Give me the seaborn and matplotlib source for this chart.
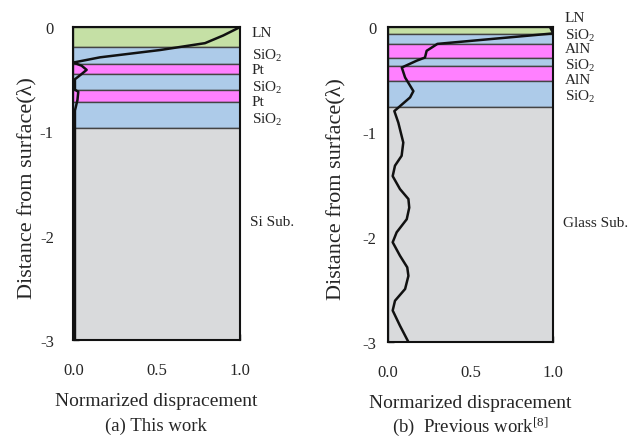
import numpy as np
import pandas as pd
import seaborn as sns
import matplotlib.pyplot as plt

# layer stacks (depth in wavelengths, top -> bottom)
a_layers = ["LN", "SiO$_2$", "Pt", "SiO$_2$", "Pt", "SiO$_2$"]
a_bounds = [0.0, 0.195, 0.35, 0.452, 0.606, 0.715, 0.97]
a_sub = "Si Sub."
a_label_depth = [0.05, 0.265, 0.41, 0.57, 0.715, 0.88]

b_layers = ["LN", "SiO$_2$", "AlN", "SiO$_2$", "AlN", "SiO$_2$"]
b_bounds = [0.0, 0.065, 0.16, 0.29, 0.375, 0.51, 0.765]
b_sub = "Glass Sub."
b_label_depth = [-0.09, 0.075, 0.205, 0.36, 0.50, 0.655]

layer_colors = {"LN": "#c5e0a5", "SiO$_2$": "#adcbe9", "Pt": "#ff80ff", "AlN": "#ff80ff"}
sub_color = "#d9dadc"

# displacement profiles
a_depth = [0.0, 0.08, 0.154, 0.22, 0.29, 0.34, 0.37, 0.41, 0.45, 0.50, 0.60, 0.62, 0.70, 0.80, 1.0, 1.5, 2.0, 2.5, 3.0]
a_disp = [1.0, 0.90, 0.79, 0.52, 0.16, 0.0, 0.05, 0.08, 0.05, 0.01, 0.01, 0.03, 0.025, 0.01, 0.01, 0.01, 0.01, 0.01, 0.01]

b_depth = [0.0, 0.06, 0.16, 0.226, 0.29, 0.32, 0.385, 0.48, 0.61, 0.67, 0.80, 0.91, 1.10, 1.226, 1.32, 1.42,
           1.543, 1.638, 1.72, 1.83, 1.955, 2.05, 2.178, 2.289, 2.37, 2.495, 2.607, 2.70, 2.845, 3.0]
b_disp = [0.98, 1.0, 0.30, 0.235, 0.225, 0.175, 0.085, 0.105, 0.155, 0.135, 0.04, 0.064, 0.094, 0.084, 0.044, 0.03,
          0.074, 0.125, 0.13, 0.115, 0.054, 0.03, 0.074, 0.118, 0.125, 0.105, 0.044, 0.03, 0.074, 0.125]

sns.set_style("ticks")
plt.rcParams["font.family"] = ["Liberation Serif", "DejaVu Serif"]
plt.rcParams["mathtext.fontset"] = "custom"
plt.rcParams["mathtext.rm"] = "Liberation Serif"
plt.rcParams["mathtext.it"] = "Liberation Serif:italic"

fig = plt.figure(figsize=(6.4, 4.39), dpi=100)
ax_a = fig.add_axes([0.1145, 0.2233, 0.2605, 0.7127])
ax_b = fig.add_axes([0.6058, 0.2187, 0.2588, 0.7173])


def draw_panel(ax, layers, bounds, sub, label_depth, depth, disp, ypad):
    for i, name in enumerate(layers):
        ax.axhspan(-bounds[i + 1], -bounds[i], color=layer_colors[name], ec="#444444", lw=1.0, zorder=1)
        ax.text(1.07, -label_depth[i], name, transform=ax.get_yaxis_transform(),
                fontsize=11, va="center", ha="left")
    ax.axhspan(-3, -bounds[-1], color=sub_color, ec="#444444", lw=1.0, zorder=1)
    ax.text(1.06, -1.86, sub, transform=ax.get_yaxis_transform(), fontsize=11, va="center", ha="left")

    df = pd.DataFrame({"disp": disp, "depth": [-d for d in depth]})
    sns.lineplot(data=df, x="disp", y="depth", sort=False, estimator=None, color="#111111",
                 lw=1.8, ax=ax, zorder=3)

    ax.set_xlim(0, 1)
    ax.set_ylim(-3, 0)
    ax.set_xticks([0, 0.5, 1.0])
    ax.set_xticklabels(["0.0", "0.5", "1.0"])
    ax.set_yticks([0, -1, -2, -3])
    ax.set_yticklabels(["0", "-1", "-2", "-3"])
    ax.tick_params(direction="in", length=4, width=1, labelsize=12, color="#222222")
    ax.tick_params(axis="x", pad=16)
    ax.tick_params(axis="y", pad=ypad)
    for s in ax.spines.values():
        s.set_linewidth(1.5)
        s.set_color("#111111")
        s.set_zorder(4)
    ax.set_xlabel("Normarized dispracement", fontsize=14, labelpad=10)
    ax.set_ylabel("Distance from surface(λ)", fontsize=16)


draw_panel(ax_a, a_layers, a_bounds, a_sub, a_label_depth, a_depth, a_disp, 14)
ax_a.yaxis.set_label_coords(-0.22, 0.49)

draw_panel(ax_b, b_layers, b_bounds, b_sub, b_label_depth, b_depth, b_disp, 8)
ax_b.yaxis.set_label_coords(-0.255, 0.49)

fig.text(0.243, 0.028, "(a) This work", fontsize=13.5, ha="center", va="center")
fig.text(0.735, 0.028, "(b)  Previous work$^{[8]}$", fontsize=13.5, ha="center", va="center")

fig.savefig("out.png", dpi=100)
